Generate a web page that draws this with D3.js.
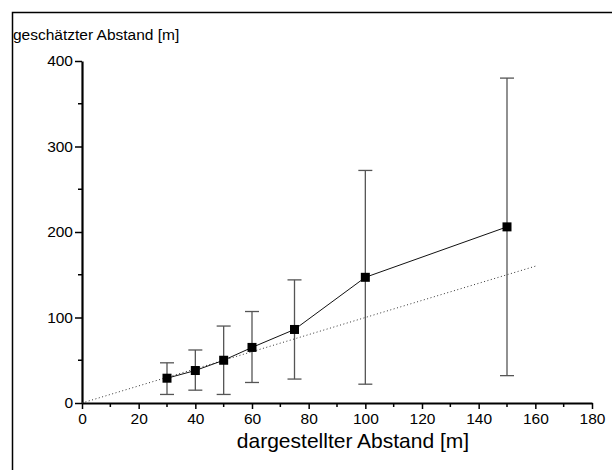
<!DOCTYPE html>
<html>
<head>
<meta charset="utf-8">
<script src="https://cdn.jsdelivr.net/npm/d3@7"></script>
<style>
  html, body { margin: 0; padding: 0; background: #fff; overflow: hidden; }
  svg { display: block; font-family: "Liberation Sans", Arial, sans-serif; }
</style>
</head>
<body>
<svg width="612" height="470"></svg>
<script>
// distances shown (x) and estimated (y), with error range
const shown = [30, 40, 50, 60, 75, 100, 150];
const estimated = [29, 38, 50, 65, 86, 147, 206];
const errLow = [10, 15, 10, 24, 28, 22, 32];
const errHigh = [47, 62, 90, 107, 144, 272, 380];
const refLine = [0, 160];
const xTicks = [0, 20, 40, 60, 80, 100, 120, 140, 160, 180];
const yTicks = [0, 100, 200, 300, 400];

const svg = d3.select('svg');

// frame: only top and left edges are inside the picture
svg.append('path')
    .attr('d', 'M612,12.5H12.5V470')
    .attr('fill', 'none')
    .attr('stroke', '#000')
    .attr('stroke-width', 1.5);

const xScale = d3.scaleLinear().domain([0, 180]).range([82, 592]);
const yScale = d3.scaleLinear().domain([0, 400]).range([403, 61]);

// ---------------- axes ----------------
const xAxis = svg.append('g')
    .attr('transform', `translate(0, ${yScale(0)})`)
    .call(d3.axisBottom(xScale).tickValues(xTicks).tickSize(6).tickPadding(4).tickSizeOuter(0));
xAxis.append('g').selectAll('line')
    .data(d3.range(10, 180, 20))
    .join('line')
    .attr('x1', d => xScale(d)).attr('x2', d => xScale(d))
    .attr('y1', 0).attr('y2', 4)
    .attr('stroke', '#000').attr('stroke-width', 1.5);

const yAxis = svg.append('g')
    .attr('transform', `translate(${xScale(0)}, 0)`)
    .call(d3.axisLeft(yScale).tickValues(yTicks).tickSize(7).tickPadding(2).tickSizeOuter(0));
yAxis.append('g').selectAll('line')
    .data(d3.range(50, 400, 100))
    .join('line')
    .attr('y1', d => yScale(d)).attr('y2', d => yScale(d))
    .attr('x1', 0).attr('x2', -4)
    .attr('stroke', '#000').attr('stroke-width', 1.5);

svg.selectAll('.domain').attr('stroke-width', 2.2);
svg.selectAll('.tick line').attr('stroke-width', 1.5);
svg.selectAll('.tick text')
    .style('font-size', '15.5px')
    .style('font-family', '"Liberation Sans", Arial, sans-serif')
    .attr('fill', '#000');

// axis titles
svg.append('text')
    .attr('x', 13).attr('y', 40)
    .style('font-size', '15.5px')
    .text('geschätzter Abstand [m]');

svg.append('text')
    .attr('x', 353).attr('y', 448)
    .attr('text-anchor', 'middle')
    .style('font-size', '21px')
    .text('dargestellter Abstand [m]');

// ---------------- reference line y = x ----------------
svg.append('line')
    .attr('x1', xScale(refLine[0])).attr('y1', yScale(refLine[0]))
    .attr('x2', xScale(refLine[1])).attr('y2', yScale(refLine[1]))
    .attr('stroke', '#333')
    .attr('stroke-width', 1)
    .attr('stroke-dasharray', '1,2.5');

// ---------------- error bars ----------------
const data = shown.map((x, i) => ({ x, y: estimated[i], lo: errLow[i], hi: errHigh[i] }));

const bars = svg.append('g').attr('stroke', '#555').attr('stroke-width', 1.3);
bars.selectAll('.v').data(data).join('line')
    .attr('x1', d => xScale(d.x)).attr('x2', d => xScale(d.x))
    .attr('y1', d => yScale(d.lo)).attr('y2', d => yScale(d.hi));
bars.selectAll('.cap-hi').data(data).join('line')
    .attr('x1', d => xScale(d.x) - 7).attr('x2', d => xScale(d.x) + 7)
    .attr('y1', d => yScale(d.hi)).attr('y2', d => yScale(d.hi));
bars.selectAll('.cap-lo').data(data).join('line')
    .attr('x1', d => xScale(d.x) - 7).attr('x2', d => xScale(d.x) + 7)
    .attr('y1', d => yScale(d.lo)).attr('y2', d => yScale(d.lo));

// ---------------- data line + markers ----------------
svg.append('path')
    .datum(data)
    .attr('fill', 'none')
    .attr('stroke', '#111')
    .attr('stroke-width', 1)
    .attr('d', d3.line().x(d => xScale(d.x)).y(d => yScale(d.y)));

svg.append('g').selectAll('rect').data(data).join('rect')
    .attr('x', d => xScale(d.x) - 4.5)
    .attr('y', d => yScale(d.y) - 4.5)
    .attr('width', 9).attr('height', 9)
    .attr('fill', '#000');
</script>
</body>
</html>
